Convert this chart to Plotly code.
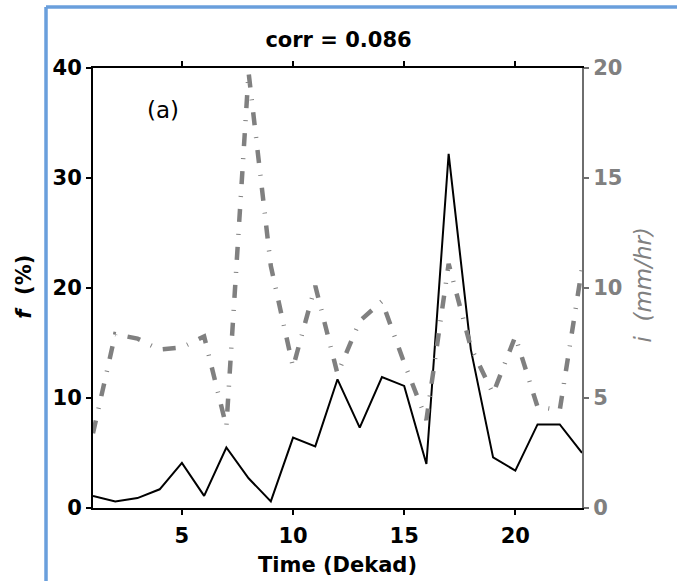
import plotly.graph_objects as go

dekad = list(range(1, 24))
f_pct = [1.1, 0.6, 0.9, 1.7, 4.1, 1.1, 5.5, 2.7, 0.6, 6.4, 5.6, 11.7, 7.3,
         11.9, 11.1, 4.0, 32.2, 14.4, 4.6, 3.4, 7.6, 7.6, 5.0]
i_mmhr = [3.4, 7.9, 7.7, 7.2, 7.3, 7.8, 3.7, 19.8, 11.0, 6.4, 10.1, 6.1, 8.5,
          9.4, 6.6, 4.0, 11.1, 7.3, 5.2, 7.8, 4.6, 4.45, 10.9]
x_ticks = [5, 10, 15, 20]
y1_ticks = [0, 10, 20, 30, 40]
y2_ticks = [0, 5, 10, 15, 20]

FONT = "DejaVu Sans"
GRAY = "#808080"
AXGRAY = "#6e6e6e"
BLUE = "#6a9fdc"

fig = go.Figure()
fig.add_trace(go.Scatter(x=dekad, y=f_pct, mode="lines",
                         line=dict(color="black", width=2), yaxis="y",
                         showlegend=False))
fig.add_trace(go.Scatter(x=dekad, y=i_mmhr, mode="lines",
                         line=dict(color=GRAY, width=4.5, dash="13px,12px,1px,12px"),
                         yaxis="y2", showlegend=False))

tickfont = dict(family=FONT, size=21, color="black", weight="bold")

fig.update_layout(
    width=677, height=581,
    margin=dict(l=93, r=95, t=68, b=73),
    paper_bgcolor="white", plot_bgcolor="white",
    xaxis=dict(range=[1, 23], tickvals=x_ticks, ticks="outside", ticklen=5,
               tickwidth=1.5, tickcolor="black", showline=True, linecolor="black",
               linewidth=2, mirror="ticks", showgrid=False, zeroline=False,
               tickfont=tickfont, ticklabelstandoff=3),
    yaxis=dict(range=[0, 40], tickvals=y1_ticks, ticks="outside", ticklen=5,
               tickwidth=1.5, tickcolor="black", showline=True, linecolor="black",
               linewidth=2, showgrid=False, zeroline=False, tickfont=tickfont),
    yaxis2=dict(range=[0, 20], tickvals=y2_ticks, ticks="outside", ticklen=5,
                tickwidth=1.5, tickcolor=AXGRAY, showline=True, linecolor=AXGRAY,
                linewidth=2, showgrid=False, zeroline=False, overlaying="y",
                side="right",
                tickfont=dict(family=FONT, size=21, color=GRAY, weight="bold")),
    title=dict(text="<b>corr = 0.086</b>", x=0.5, xanchor="center",
               y=1 - 40 / 581, yanchor="middle", yref="container",
               font=dict(family=FONT, size=21, color="black")),
    annotations=[
        dict(text="<b>Time (Dekad)</b>", xref="paper", yref="paper", x=0.5,
             y=-0.1295, xanchor="center", yanchor="middle", showarrow=False,
             font=dict(family=FONT, size=21, color="black")),
        dict(text="<b><i>f</i>  (%)</b>", xref="paper", yref="paper",
             x=-0.14, y=0.502, xanchor="center", yanchor="middle",
             textangle=-90, showarrow=False,
             font=dict(family=FONT, size=21, color="black")),
        dict(text="<i>i  (mm/hr)</i>", xref="paper", yref="paper",
             x=1.125, y=0.508, xanchor="center", yanchor="middle",
             textangle=-90, showarrow=False,
             font=dict(family=FONT, size=23, color=GRAY)),
        dict(text="(a)", xref="x", yref="y", x=4.15, y=36.2,
             xanchor="center", yanchor="middle", showarrow=False,
             font=dict(family=FONT, size=23, color="black")),
    ],
    shapes=[
        dict(type="line", xref="paper", yref="paper", x0=-0.0961, x1=1.2,
             y0=1.1386, y1=1.1386, line=dict(color=BLUE, width=3.5)),
        dict(type="line", xref="paper", yref="paper", x0=-0.0961, x1=-0.0961,
             y0=1.1386, y1=-0.17, line=dict(color=BLUE, width=3.5)),
    ],
)

fig.write_html("out.html")
